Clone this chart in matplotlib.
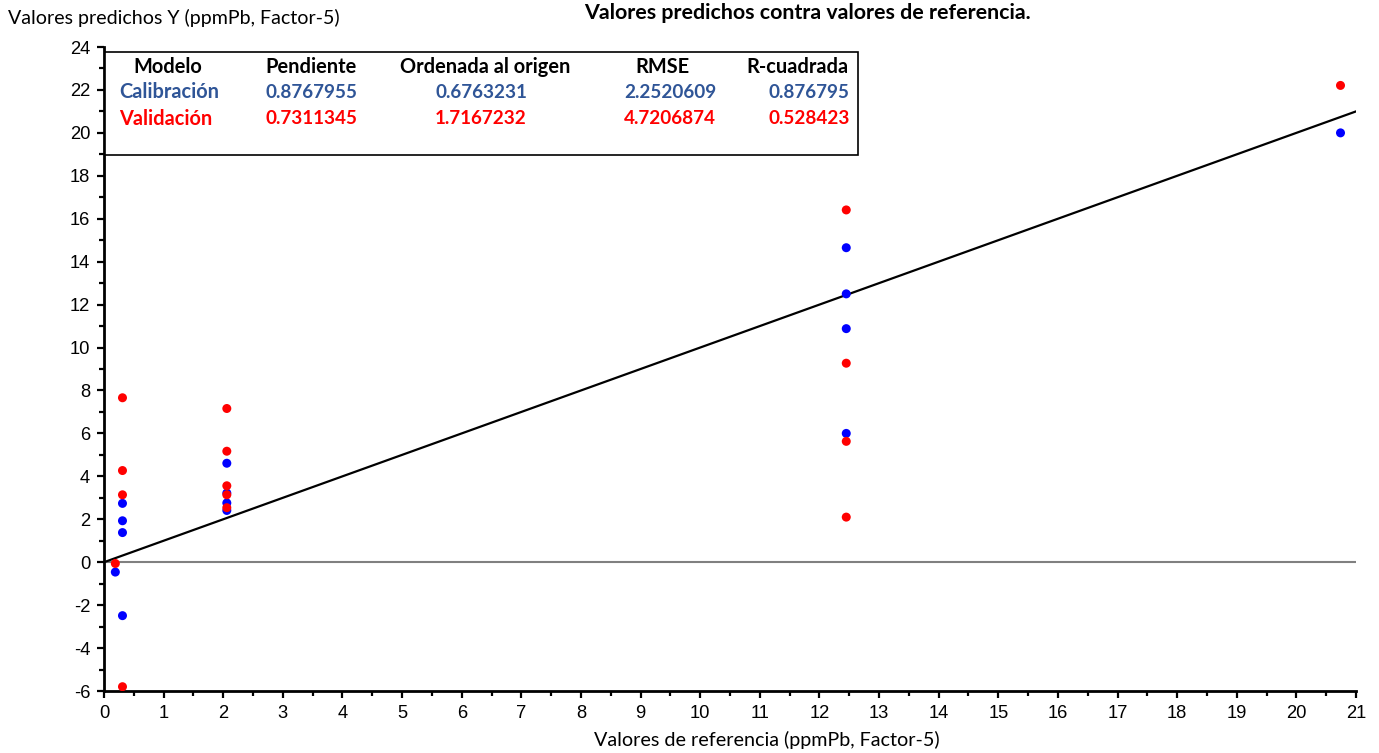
import matplotlib
matplotlib.use("Agg")
import matplotlib.pyplot as plt
from matplotlib.ticker import MultipleLocator
from matplotlib.patches import Rectangle

plt.rcParams["axes.unicode_minus"] = False

# Calibration set (blue)
cal_x = [0.19, 0.31, 0.31, 0.31, 0.31, 2.06, 2.06, 2.06, 2.06, 12.45, 12.45, 12.45, 12.45, 20.74]
cal_y = [-0.46, 2.74, 1.93, 1.38, -2.49, 4.61, 3.22, 2.76, 2.41, 14.65, 12.50, 10.88, 6.00, 20.00]

# Validation set (red)
val_x = [0.19, 0.31, 0.31, 0.31, 0.31, 2.06, 2.06, 2.06, 2.06, 2.06, 12.45, 12.45, 12.45, 12.45, 20.74]
val_y = [-0.06, 7.66, 4.27, 3.14, -5.80, 7.16, 5.17, 3.56, 3.14, 2.54, 16.41, 9.27, 5.63, 2.10, 22.21]

# Summary statistics table
table_header = ["Modelo", "Pendiente", "Ordenada al origen", "RMSE", "R-cuadrada"]
row_cal = ["Calibración", "0.8767955", "0.6763231", "2.2520609", "0.876795"]
row_val = ["Validación", "0.7311345", "1.7167232", "4.7206874", "0.528423"]

W, H = 1379, 753
fig = plt.figure(figsize=(W / 100, H / 100), dpi=100)
ax = fig.add_axes([104 / W, (H - 691) / H, (1356 - 104) / W, (691 - 47) / H])

ax.set_xlim(0, 21)
ax.set_ylim(-6, 24)

# Reference lines
ax.axhline(0, color="#808080", lw=1.5, zorder=1)
ax.plot([0, 21], [0, 21], color="black", lw=1.6, zorder=2)

ax.scatter(cal_x, cal_y, s=42, color="#0000FF", edgecolors="none", zorder=3)
ax.scatter(val_x, val_y, s=42, color="#FF0000", edgecolors="none", zorder=4)

for s in ["top", "right"]:
    ax.spines[s].set_visible(False)
for s in ["left", "bottom"]:
    ax.spines[s].set_linewidth(2)
ax.xaxis.set_major_locator(MultipleLocator(1))
ax.xaxis.set_minor_locator(MultipleLocator(0.5))
ax.yaxis.set_major_locator(MultipleLocator(2))
ax.yaxis.set_minor_locator(MultipleLocator(1))
ax.tick_params(which="major", direction="out", length=5, width=1.6, labelsize=13.2, pad=5,
               labelfontfamily="Liberation Sans")
ax.tick_params(which="minor", direction="out", length=3.4, width=1.6)

label_font = "Lato"
fig.text(8 / W, 1 - 18 / H, "Valores predichos Y (ppmPb, Factor-5)", fontsize=14.1,
         family=label_font, ha="left", va="center")
fig.text(767 / W, 1 - 740 / H, "Valores de referencia (ppmPb, Factor-5)", fontsize=14.2,
         family=label_font, ha="center", va="center")
fig.text(807 / W, 1 - 13 / H, "Valores predichos contra valores de referencia.", fontsize=15.4,
         family=label_font, weight="bold", ha="center", va="center")

# Table box
fig.patches.append(Rectangle((105 / W, 1 - 155 / H), (858 - 105) / W, (155 - 52) / H,
                             transform=fig.transFigure, fill=True, facecolor="white",
                             edgecolor="black", lw=1.2, zorder=5))

tab_font = "Lato"
col_x = [168, 311, 485, 662, 797]
val_cx = [None, 311, 481, 670, 809]
rows = [(table_header, "black", 67), (row_cal, "#2F5597", 92), (row_val, "#FF0000", 119)]
for r, (cells, color, y) in enumerate(rows):
    for c, txt in enumerate(cells):
        if r > 0 and c == 0:
            fig.text(119 / W, 1 - y / H, txt, fontsize=14.4, family=tab_font, weight="bold",
                     color=color, ha="left", va="center", zorder=6)
        elif r == 0:
            fig.text(col_x[c] / W, 1 - y / H, txt, fontsize=14.4, family=tab_font,
                     weight="bold", color=color, ha="center", va="center", zorder=6)
        else:
            fig.text(val_cx[c] / W, 1 - y / H, txt, fontsize=13.6, family=tab_font,
                     weight="bold", color=color, ha="center", va="center", zorder=6)

fig.savefig("out.png", dpi=100)
